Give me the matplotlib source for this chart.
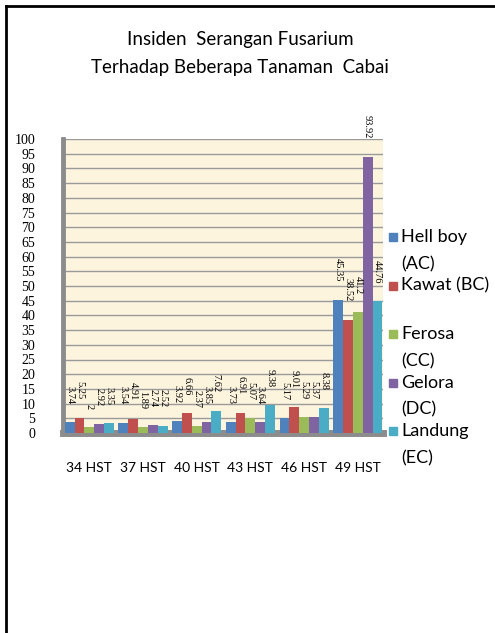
import numpy as np
import matplotlib.pyplot as plt
from matplotlib.patches import Rectangle
from matplotlib.lines import Line2D

# Incidence of Fusarium attack (%) per observation day
days = ['34 HST', '37 HST', '40 HST', '43 HST', '46 HST', '49 HST']
varieties = ['Hell boy\n(AC)', 'Kawat (BC)', 'Ferosa\n(CC)', 'Gelora\n(DC)', 'Landung\n(EC)']
hell_boy = [3.74, 3.54, 3.92, 3.73, 5.17, 45.35]
kawat = [5.25, 4.91, 6.66, 6.91, 9.01, 38.52]
ferosa = [2, 1.89, 2.37, 5.07, 5.29, 41.2]
gelora = [2.92, 2.74, 3.85, 3.64, 5.37, 93.92]
landung = [3.35, 2.52, 7.62, 9.38, 8.38, 44.76]
series = [hell_boy, kawat, ferosa, gelora, landung]
colors = ['#4F81BD', '#C0504D', '#9BBB59', '#8064A2', '#4BACC6']

W, H = 495, 633
fig = plt.figure(figsize=(W / 100, H / 100), dpi=100)
fig.patch.set_facecolor('white')

ax = fig.add_axes([63 / W, 1 - 433 / H, (383 - 63) / W, (433 - 139) / H])
ax.set_facecolor('#FDF4DE')

x = np.arange(len(days))
bw = 0.183
for i, (vals, c) in enumerate(zip(series, colors)):
    pos = x + (i - 2) * bw
    ax.bar(pos, vals, width=bw, color=c, zorder=3, linewidth=0)
    for xp, v in zip(pos, vals):
        ax.annotate(f'{v:g}', (xp, v), xytext=(0, 13), textcoords='offset points',
                    rotation=270, ha='center', va='bottom', fontsize=7.5,
                    family='Liberation Serif', clip_on=False, zorder=4)

ax.set_ylim(0, 100)
ax.set_xlim(-0.49, 5.47)

# grey wall and floor
for s in ['top', 'right']:
    ax.spines[s].set_visible(False)
ax.spines['left'].set_color('#8C8C8C')
ax.spines['left'].set_linewidth(3.5)
ax.spines['bottom'].set_color('#8C8C8C')
ax.spines['bottom'].set_linewidth(5)

ax.set_yticks(range(0, 101, 5))
ax.yaxis.grid(True, color='#9A9A9A', linewidth=1, zorder=1)
ax.set_axisbelow(True)
ax.set_xticks(x)
ax.set_xticklabels(days, family='Lato', fontsize=10)
for lab in ax.get_yticklabels():
    lab.set_family('Liberation Serif')
    lab.set_fontsize(10)
ax.tick_params(axis='y', length=0, pad=20)
ax.tick_params(axis='x', length=0, pad=21)

fig.text(0.485, 1 - 40 / H, 'Insiden  Serangan Fusarium', ha='center', va='center',
         family='Lato', fontsize=13.5)
fig.text(0.485, 1 - 67 / H, 'Terhadap Beberapa Tanaman  Cabai', ha='center', va='center',
         family='Lato', fontsize=13.5)

# legend drawn by hand so the marker sits beside the first line of each label
for i, (name, c) in enumerate(zip(varieties, colors)):
    y0 = 237 + i * 48.5
    fig.add_artist(Rectangle((389 / W, 1 - (y0 + 4) / H), 8 / W, 8 / H,
                             transform=fig.transFigure, color=c))
    for k, line in enumerate(name.split('\n')):
        fig.text(401 / W, 1 - (y0 + k * 27) / H, line, ha='left', va='center',
                 family='Lato', fontsize=13)

# outer frame
fig.add_artist(Line2D([6 / W, 6 / W], [0, 1 - 6 / H], color='black', linewidth=2,
                      transform=fig.transFigure))
fig.add_artist(Line2D([6 / W, 1], [1 - 6 / H, 1 - 6 / H], color='black', linewidth=2,
                      transform=fig.transFigure))

fig.savefig('out.png', dpi=100)
